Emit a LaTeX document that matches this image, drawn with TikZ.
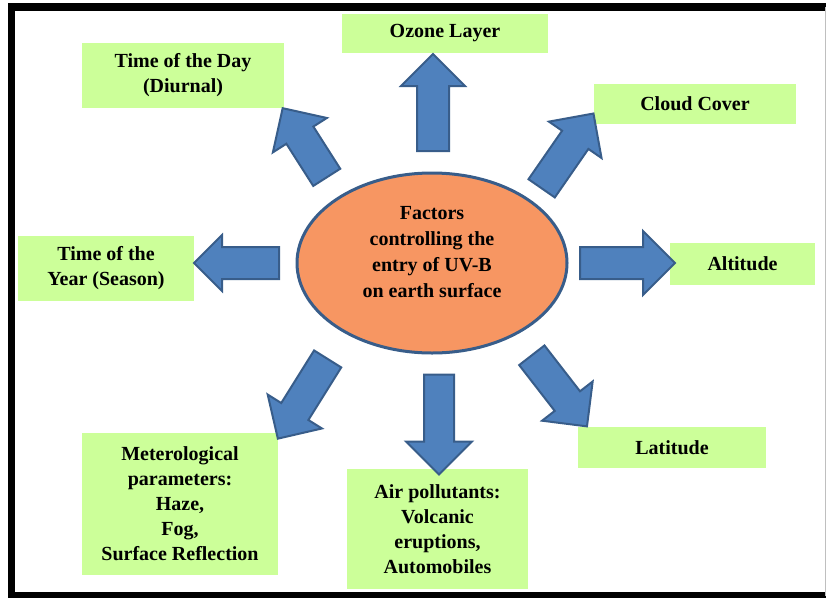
\documentclass[tikz,border=0pt]{standalone}
\usepackage{fontspec}
\setmainfont{Liberation Serif}
\usetikzlibrary{shapes.geometric,shapes.arrows}

\definecolor{boxgreen}{RGB}{204,255,153}
\definecolor{hubfill}{RGB}{247,150,98}
\definecolor{hubline}{RGB}{56,93,138}
\definecolor{arrfill}{RGB}{79,129,189}
\definecolor{arrline}{RGB}{56,93,138}

\begin{document}
\begin{tikzpicture}[
    x=1pt, y=-1pt,
    factor/.style={fill=boxgreen, inner sep=0pt, align=center, font=\bfseries\fontsize{20}{25}\selectfont},
    hub/.style={ellipse, draw=hubline, line width=3pt, fill=hubfill, minimum width=270pt, minimum height=180pt},
    hubtext/.style={align=center, font=\bfseries\fontsize{20}{26}\selectfont},
    blockarr/.style={single arrow, draw=arrline, fill=arrfill, line width=2pt, inner sep=0pt,
        inner ysep=15pt, single arrow head extend=16pt, single arrow tip angle=90, minimum height=#1}
]
\useasboundingbox (0,0) rectangle (826,597);
\clip (0,0) rectangle (826,597);

% frame
\draw[line width=7.5pt] (826,7) -- (11.5,7) -- (11.5,595.5) -- (826,595.5);
\draw[black!25, line width=1pt] (825,7) -- (825,595.5);

% centre
\node[hub] (fac) at (432,263) {};
\node[hubtext] (factxt) at (432,252) {Factors\\controlling the\\entry of UV-B\\on earth surface};

% factors
\node[factor, minimum width=206pt, minimum height=39pt] (oz) at (445,33) {Ozone Layer};
\node[factor, minimum width=202pt, minimum height=65pt] (day) at (183,75) {Time of the Day\\(Diurnal)};
\node[factor, minimum width=202pt, minimum height=40pt] (cloud) at (695,104) {Cloud Cover};
\node[factor, minimum width=176pt, minimum height=65pt] (year) at (106,268.5) {Time of the\\Year (Season)};
\node[factor, minimum width=145pt, minimum height=42pt] (alt) at (742.5,264) {Altitude};
\node[factor, minimum width=188pt, minimum height=41pt] (lat) at (672,447.5) {Latitude};
\node[factor, minimum width=196pt, minimum height=142pt] (met) at (180,504) {Meterological\\parameters:\\Haze,\\Fog,\\Surface Reflection};
\node[factor, minimum width=181pt, minimum height=120pt] (air) at (437.5,529) {Air pollutants:\\Volcanic\\eruptions,\\Automobiles};

% arrows
\node[blockarr=97pt, rotate=90] (aoz) at (433,110.5) {};
\node[blockarr=91pt, rotate=55.3] (acloud) at (563,157.5) {};
\node[blockarr=95pt, rotate=0] (aalt) at (619.5,263) {};
\node[blockarr=90pt, rotate=-52.2] (alat) at (554.5,384.5) {};
\node[blockarr=100pt, rotate=-90, inner ysep=14pt, single arrow head extend=18pt] (aair) at (439,417) {};
\node[blockarr=94pt, rotate=238] (amet) at (307,392) {};
\node[blockarr=85pt, rotate=180, single arrow head extend=12pt] (ayear) at (244.5,263) {};
\node[blockarr=82pt, rotate=122.5] (aday) at (309,149.5) {};

\end{tikzpicture}
\end{document}
